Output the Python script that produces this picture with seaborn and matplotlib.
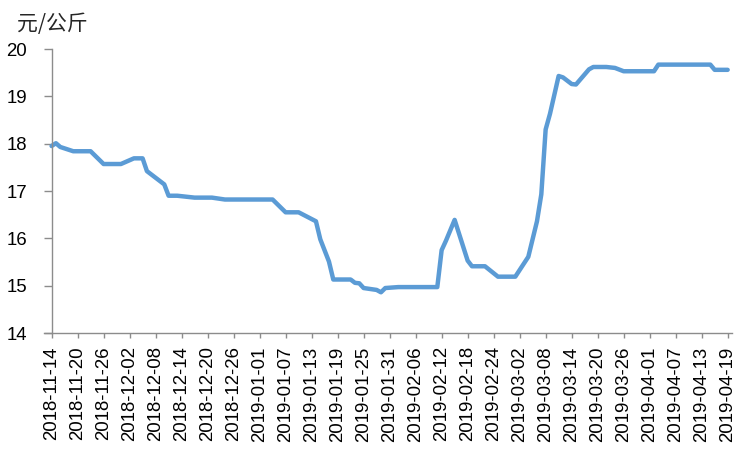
import pandas as pd
import matplotlib
matplotlib.use('Agg')
import seaborn as sns
from matplotlib import pyplot as plt

# price series
start_date = '2018-11-14'
end_date = '2019-04-19'
day_offsets = [0, 1, 2, 5, 9, 12, 16, 19, 21, 22, 26, 27, 29, 33, 37, 40, 51, 54, 57,
               61, 62, 64, 65, 69, 70, 71, 72, 75, 76, 77, 80, 89, 90, 91, 93, 96, 97,
               100, 103, 107, 110, 112, 113, 114, 115, 117, 118, 120, 121, 124, 125,
               128, 130, 132, 139, 140, 152, 153, 156]
prices = [17.95, 18.01, 17.93, 17.84, 17.84, 17.57, 17.57, 17.69, 17.69, 17.42, 17.14,
          16.90, 16.90, 16.86, 16.86, 16.82, 16.82, 16.55, 16.55, 16.36, 15.98, 15.51,
          15.13, 15.13, 15.06, 15.05, 14.95, 14.91, 14.86, 14.95, 14.97, 14.97, 15.75,
          15.95, 16.39, 15.53, 15.41, 15.41, 15.19, 15.19, 15.61, 16.36, 16.93, 18.30,
          18.63, 19.43, 19.40, 19.26, 19.25, 19.57, 19.62, 19.62, 19.60, 19.53, 19.53,
          19.67, 19.67, 19.56, 19.56]
unit_label = '元/公斤'
y_ticks = [14, 15, 16, 17, 18, 19, 20]

t0 = pd.Timestamp(start_date)
df = pd.DataFrame({'date': t0 + pd.to_timedelta(day_offsets, unit='D'), 'price': prices})

sns.set_style('white')
plt.rcParams['font.family'] = ['Liberation Sans', 'Noto Sans CJK SC', 'DejaVu Sans']

fig = plt.figure(figsize=(7.51, 4.51), dpi=100)
ax = fig.add_axes([44 / 751, 1 - 333 / 451, (732 - 44) / 751, (333 - 49) / 451])

sns.lineplot(data=df, x='date', y='price', ax=ax, color='#5B9BD5', linewidth=3.2)

tick_dates = pd.date_range(start_date, end_date, freq='6D')
ax.set_xticks(tick_dates)
ax.set_xticklabels([d.strftime('%Y-%m-%d') for d in tick_dates], rotation=90)
ax.set_xlim(t0 - pd.Timedelta(days=1.75), pd.Timestamp(end_date) + pd.Timedelta(days=1))
ax.set_ylim(14, 20)
ax.set_yticks(y_ticks)
ax.set_xlabel('')
ax.set_ylabel('')

for side in ['top', 'right']:
    ax.spines[side].set_visible(False)
for side in ['left', 'bottom']:
    ax.spines[side].set_color('#8c8c8c')
    ax.spines[side].set_linewidth(1)
ax.spines['left'].set_position(('data', matplotlib.dates.date2num(t0)))

ax.tick_params(axis='x', length=3.6, width=1, color='#8c8c8c', labelsize=13.4, pad=6, labelcolor='black')
ax.tick_params(axis='y', length=5.5, width=1, color='#8c8c8c', labelsize=13.4, pad=12, labelcolor='black')
ax.tick_params(left=True, bottom=True)

fig.text(17 / 751, 1 - 24 / 451, unit_label, fontsize=15, ha='left', va='center',
         family=['Noto Sans CJK SC', 'DejaVu Sans'])

fig.savefig('out.png', dpi=100)
